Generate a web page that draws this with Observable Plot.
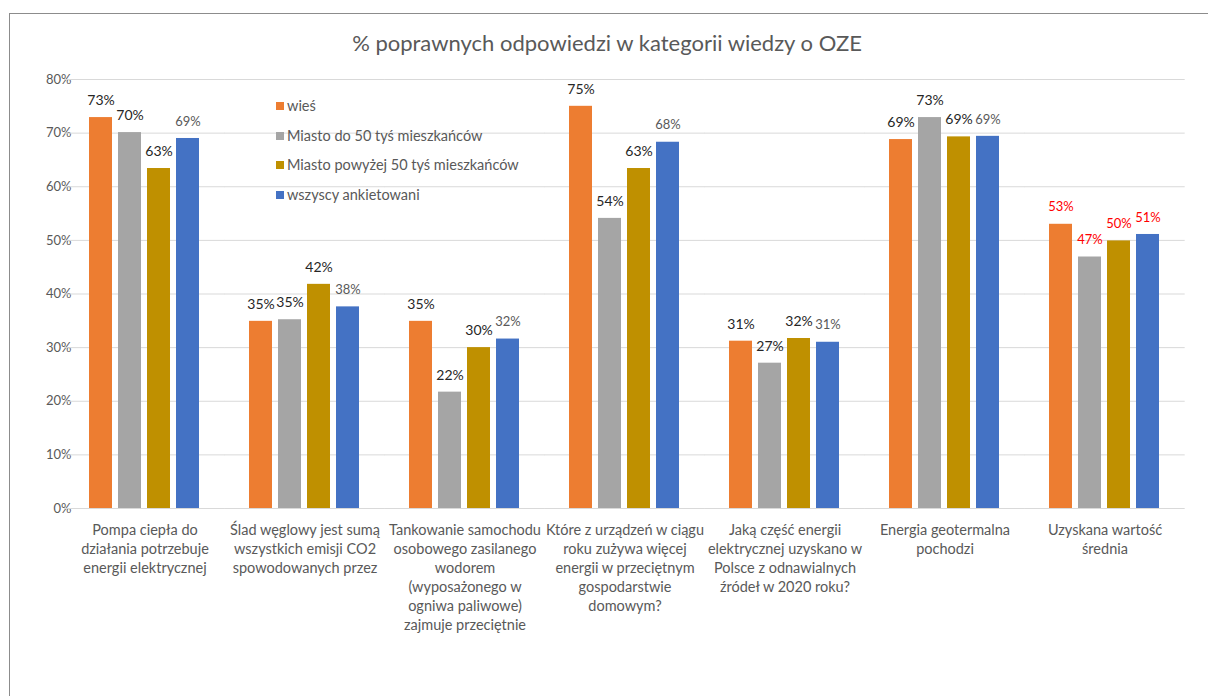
<!DOCTYPE html>
<html>
<head>
<meta charset="utf-8">
<script src="https://cdn.jsdelivr.net/npm/d3@7"></script>
<script src="https://cdn.jsdelivr.net/npm/@observablehq/plot@0.6"></script>
<style>
  html, body { margin: 0; padding: 0; background: #fff; overflow: hidden; }
  #wrap { position: relative; width: 1208px; height: 696px; font-family: Lato, "Open Sans", sans-serif; }
  #frame { position: absolute; left: 9px; top: 13px; width: 1300px; height: 800px; border: 1px solid #8c8c8c; box-sizing: border-box; }
  #chart { position: absolute; left: 0; top: 0; }
  #title { position: absolute; left: 0; width: 1214px; top: 29px; text-align: center; font-size: 22px; color: #595959; }
  #legend { position: absolute; left: 276px; top: 96px; }
  .item { position: relative; height: 29.5px; font-size: 14.5px; color: #595959; white-space: nowrap; }
  .sw { position: absolute; left: 0; top: 6px; width: 8px; height: 8px; }
  .lb { position: absolute; left: 11px; top: 0; line-height: 20px; }
</style>
</head>
<body>
<div id="wrap">
  <div id="frame"></div>
  <div id="chart"></div>
  <div id="title"></div>
  <div id="legend"></div>
</div>
<script>
const titleText = "% poprawnych odpowiedzi w kategorii wiedzy o OZE";

const categories = [
  "Pompa ciepła do\ndziałania potrzebuje\nenergii elektrycznej",
  "Ślad węglowy jest sumą\nwszystkich emisji CO2\nspowodowanych przez",
  "Tankowanie samochodu\nosobowego zasilanego\nwodorem\n(wyposażonego w\nogniwa paliwowe)\nzajmuje przeciętnie",
  "Które z urządzeń w ciągu\nroku zużywa więcej\nenergii w przeciętnym\ngospodarstwie\ndomowym?",
  "Jaką część energii\nelektrycznej uzyskano w\nPolsce z odnawialnych\nźródeł w 2020 roku?",
  "Energia geotermalna\npochodzi",
  "Uzyskana wartość\nśrednia"
];

const series = ["wieś", "Miasto do 50 tyś mieszkańców", "Miasto powyżej 50 tyś mieszkańców", "wszyscy ankietowani"];
const seriesColors = ["#ED7D31", "#A5A5A5", "#BF9000", "#4472C4"];

const wies        = [0.729, 0.349, 0.349, 0.750, 0.312, 0.688, 0.530];
const miastoDo50  = [0.701, 0.352, 0.217, 0.541, 0.271, 0.729, 0.469];
const miastoPow50 = [0.634, 0.418, 0.300, 0.634, 0.317, 0.693, 0.499];
const wszyscy     = [0.690, 0.376, 0.316, 0.683, 0.310, 0.694, 0.511];

const yTicks = [0, 0.1, 0.2, 0.3, 0.4, 0.5, 0.6, 0.7, 0.8];

const valuesBySeries = [wies, miastoDo50, miastoPow50, wszyscy];
const data = [];
categories.forEach((cat, ci) => {
  series.forEach((s, si) => {
    data.push({cat, ci, series: s, si, value: valuesBySeries[si][ci]});
  });
});

const pct = d3.format(".0%");

function labelColor(d) {
  if (d.ci === categories.length - 1) return "#FF0000";
  if (d.si === 3) return "#595959";
  return "#262626";
}

const chart = Plot.plot({
  width: 1208,
  height: 696,
  marginLeft: 63,
  marginRight: 23,
  marginTop: 79,
  marginBottom: 188,
  fx: {domain: categories, paddingInner: 0.27, paddingOuter: 0.135, axis: null, label: null},
  x: {domain: series, paddingInner: 0.2, paddingOuter: 0.1, axis: null, label: null},
  y: {domain: [0, 0.8], ticks: yTicks, tickFormat: pct, tickSize: 0, tickPadding: 15, label: null},
  color: {domain: series, range: seriesColors},
  style: {fontFamily: "Lato, 'Open Sans', sans-serif", fontSize: "13px", color: "#595959", background: "transparent"},
  marks: [
    Plot.ruleY(yTicks, {y: d => d, stroke: "#d9d9d9", strokeWidth: 1, insetLeft: -21.7, insetRight: -21.7}),
    Plot.barY(data, {fx: "cat", x: "series", y: "value", fill: "series"}),
    Plot.text(data, {
      fx: "cat", x: "series", y: "value",
      text: d => pct(d.value),
      dy: -17,
      fill: labelColor,
      fontSize: d => (d.si === 3 || d.ci === categories.length - 1) ? 13 : 14
    }),
    Plot.text(categories, {
      fx: d => d,
      text: d => d,
      frameAnchor: "bottom",
      lineAnchor: "top",
      dy: 13,
      lineHeight: 1.31,
      fill: "#595959",
      fontSize: 14.5
    })
  ]
});

document.getElementById("chart").appendChild(chart);
document.getElementById("title").textContent = titleText;

const legend = document.getElementById("legend");
series.forEach((s, i) => {
  const item = document.createElement("div");
  item.className = "item";
  const sw = document.createElement("div");
  sw.className = "sw";
  sw.style.background = seriesColors[i];
  const lb = document.createElement("div");
  lb.className = "lb";
  lb.textContent = s;
  item.appendChild(sw);
  item.appendChild(lb);
  legend.appendChild(item);
});
</script>
</body>
</html>
